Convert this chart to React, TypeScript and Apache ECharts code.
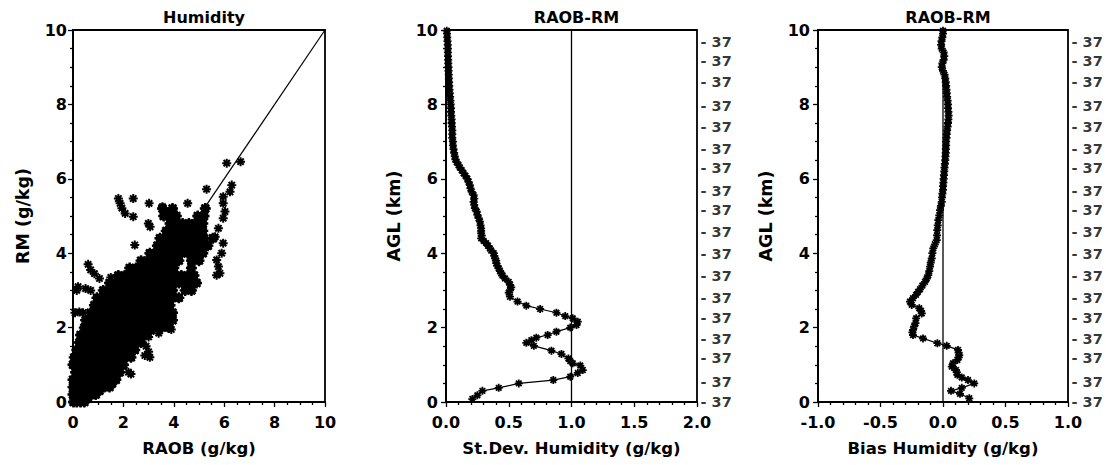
import React, { useEffect, useRef } from "react";
import * as echarts from "echarts";

// ---------- Panel 1: Humidity scatter (RAOB vs RM, g/kg) ----------
// dense cloud, read row by row: [RM value, list of RAOB values]
const cloudRows: [number, number[]][] = [
  [0.0, [0.02, 0.15, 0.3, 0.45]],
  [0.1, [0.1, 0.35, 0.6]],
  [0.2, [0.0, 0.2, 0.45, 0.7, 0.9]],
  [0.3, [0.1, 0.55, 1.05]],
  [0.4, [0.0, 0.25, 0.5, 0.75, 1.0, 1.25, 1.45]],
  [0.5, [0.15, 0.9, 1.3, 1.55]],
  [0.6, [0.0, 0.3, 0.55, 0.8, 1.05, 1.3, 1.55, 1.7]],
  [0.8, [0.1, 0.35, 0.6, 0.85, 1.1, 1.35, 1.6, 1.85]],
  [1.0, [0.0, 0.25, 0.5, 0.75, 1.0, 1.25, 1.5, 1.75, 2.0]],
  [1.2, [0.05, 0.3, 0.55, 0.8, 1.05, 1.3, 1.55, 1.8, 2.05, 2.3]],
  [1.4, [0.15, 0.4, 0.65, 0.9, 1.15, 1.4, 1.65, 1.9, 2.15, 2.45]],
  [1.6, [0.25, 0.5, 0.75, 1.0, 1.25, 1.5, 1.75, 2.0, 2.25, 2.5, 2.7]],
  [1.8, [0.3, 0.55, 0.8, 1.05, 1.3, 1.55, 1.8, 2.05, 2.3, 2.55, 2.85]],
  [2.0, [0.45, 0.7, 0.95, 1.2, 1.45, 1.7, 1.95, 2.2, 2.45, 2.7, 2.95, 3.2, 3.5, 3.8]],
  [2.2, [0.5, 0.75, 1.0, 1.25, 1.5, 1.75, 2.0, 2.25, 2.5, 2.75, 3.0, 3.25, 3.5, 3.75, 3.95]],
  [2.4, [0.7, 0.95, 1.2, 1.45, 1.7, 1.95, 2.2, 2.45, 2.7, 2.95, 3.2, 3.45, 3.7, 3.95]],
  [2.6, [0.85, 1.1, 1.35, 1.6, 1.85, 2.1, 2.35, 2.6, 2.85, 3.1, 3.35, 3.6, 3.85]],
  [2.8, [0.95, 1.2, 1.45, 1.7, 1.95, 2.2, 2.45, 2.7, 2.95, 3.2, 3.45, 3.7, 3.95, 4.2]],
  [3.0, [1.2, 1.45, 1.7, 1.95, 2.2, 2.45, 2.7, 2.95, 3.2, 3.45, 3.7, 3.95, 4.45, 4.7]],
  [3.2, [1.45, 1.7, 1.95, 2.2, 2.45, 2.7, 2.95, 3.2, 3.45, 3.7, 3.95, 4.2, 4.45, 4.7, 4.9]],
  [3.4, [1.8, 2.05, 2.3, 2.55, 2.8, 3.05, 3.3, 3.55, 3.8, 4.05, 4.3, 4.55, 4.8]],
  [3.6, [2.25, 2.5, 2.75, 3.0, 3.25, 3.5, 3.75, 4.0, 4.7]],
  [3.8, [2.7, 2.95, 3.2, 3.45, 3.7, 3.95, 4.2, 4.7, 5.0]],
  [4.0, [3.05, 3.3, 3.55, 3.8, 4.05, 4.3, 4.55, 4.8, 5.05, 5.15]],
  [4.2, [3.35, 3.6, 3.85, 4.1, 4.35, 4.6, 4.85, 5.1, 5.35]],
  [4.4, [3.45, 3.7, 3.95, 4.2, 4.45, 4.7, 4.95, 5.2, 5.55]],
  [4.6, [3.7, 3.95, 4.2, 4.45, 4.7, 4.95, 5.15]],
  [4.8, [3.85, 4.1, 4.35, 4.6, 4.85, 5.15]],
  [5.0, [3.6, 3.85, 4.1, 4.95, 5.2]],
  [5.2, [3.55, 3.95, 5.25]],
];
// isolated points: [RAOB, RM]
const outlierPoints: [number, number][] = [
  [0.08, 2.4], [0.25, 2.42], [0.4, 2.4], [0.2, 3.1], [0.5, 3.05], [0.6, 3.7],
  [0.7, 3.55], [0.85, 3.45], [1.05, 3.32], [1.5, 3.35], [0.15, 3.0], [0.7, 3.0],
  [1.8, 5.47], [1.87, 5.34], [1.94, 5.21], [2.07, 5.07], [2.39, 5.47], [2.39, 4.98],
  [3.02, 5.34], [2.99, 4.8], [3.06, 4.71], [2.45, 4.22], [4.55, 5.34], [3.55, 5.25],
  [3.72, 5.1], [3.98, 5.12], [5.3, 5.72], [5.24, 5.21], [6.1, 6.42], [6.65, 6.46],
  [6.3, 5.83], [6.23, 5.65], [5.96, 5.52], [5.96, 5.34], [6.03, 5.12], [5.96, 4.94],
  [5.77, 4.67], [5.64, 4.44], [5.96, 4.27], [5.9, 4.0], [5.7, 3.82], [5.77, 3.64],
  [5.83, 3.46], [5.7, 3.41], [2.2, 0.8], [2.3, 0.75], [2.85, 1.25], [3.0, 1.35],
  [3.05, 1.2], [2.9, 1.5], [3.1, 1.9], [3.4, 1.85], [3.9, 1.95], [3.85, 2.45],
  [1.75, 0.7], [3.0, 1.75],
];
const diagonalLine: [number, number][] = [[0, 0], [10, 10]];

// ---------- Panel 2: St.Dev. humidity profile ----------
const stdHeights = [
  0.08, 0.18, 0.3, 0.38, 0.5, 0.59, 0.68, 0.78, 0.86, 0.98, 1.04, 1.1, 1.17, 1.29, 1.38, 1.51, 1.59, 1.66,
  1.73, 1.8, 1.89, 2.0, 2.07, 2.16, 2.25, 2.31, 2.4, 2.5, 2.59, 2.7, 2.83, 2.94, 3.0, 3.08, 3.15, 3.23,
  3.32, 3.4, 3.46, 3.52, 3.59, 3.66, 3.73, 3.8, 3.86, 3.93, 4.0, 4.07, 4.13, 4.2, 4.27, 4.33, 4.4, 4.47,
  4.53, 4.6, 4.67, 4.75, 4.85, 4.94, 5.03, 5.12, 5.21, 5.3, 5.38, 5.47, 5.56, 5.65, 5.74, 5.83, 5.92, 6.0,
  6.08, 6.15, 6.23, 6.3, 6.37, 6.45, 6.52, 6.6, 6.7, 6.8, 6.9, 7.0, 7.1, 7.2, 7.3, 7.4, 7.5, 7.6, 7.7,
  7.8, 7.9, 8.0, 8.1, 8.2, 8.3, 8.4, 8.5, 8.6, 8.7, 8.8, 8.9, 9.0, 9.1, 9.2, 9.3, 9.4, 9.5, 9.6, 9.7,
  9.8, 9.9, 9.98,
];
const stdValues = [
  0.21, 0.25, 0.29, 0.42, 0.58, 0.855, 0.99, 1.05, 1.09, 1.07, 1.01, 0.99, 0.975, 0.92, 0.84, 0.7, 0.64, 0.68,
  0.72, 0.81, 0.88, 0.99, 1.04, 1.05, 1.01, 0.95, 0.88, 0.75, 0.64, 0.57, 0.51, 0.5, 0.51, 0.52, 0.51, 0.5,
  0.47, 0.45, 0.44, 0.43, 0.42, 0.41, 0.4, 0.4, 0.39, 0.385, 0.38, 0.36, 0.35, 0.335, 0.32, 0.3, 0.28, 0.285,
  0.28, 0.28, 0.28, 0.275, 0.27, 0.26, 0.25, 0.245, 0.23, 0.225, 0.22, 0.225, 0.22, 0.205, 0.195, 0.19, 0.18, 0.17,
  0.155, 0.14, 0.125, 0.11, 0.1, 0.085, 0.075, 0.07, 0.065, 0.06, 0.055, 0.055, 0.05, 0.05, 0.05, 0.048, 0.045, 0.045, 0.042,
  0.04, 0.04, 0.037, 0.035, 0.033, 0.03, 0.028, 0.026, 0.025, 0.023, 0.022, 0.02, 0.02, 0.018, 0.017, 0.016, 0.015, 0.015, 0.014, 0.012,
  0.01, 0.008, 0.006,
];
const stdRefLine: [number, number][] = [[1, 0], [1, 10]];

// ---------- Panel 3: Bias humidity profile ----------
const biasHeights = [
  0.1, 0.22, 0.3, 0.38, 0.5, 0.59, 0.66, 0.73, 0.8, 0.86, 0.95, 1.04, 1.13, 1.2, 1.26, 1.33, 1.4, 1.51,
  1.58, 1.71, 1.8, 1.87, 1.94, 2.03, 2.12, 2.25, 2.38, 2.45, 2.52, 2.61, 2.7, 2.79, 2.88, 2.96, 3.03, 3.13,
  3.23, 3.32, 3.41, 3.52, 3.64, 3.75, 3.86, 4.0, 4.13, 4.24, 4.35, 4.48, 4.62, 4.75, 4.89, 5.02, 5.16, 5.27,
  5.38, 5.5, 5.6, 5.7, 5.8, 5.9, 6.0, 6.1, 6.2, 6.3, 6.4, 6.5, 6.6, 6.7, 6.8, 6.9, 7.0, 7.1, 7.2, 7.3,
  7.4, 7.5, 7.6, 7.7, 7.8, 7.9, 8.0, 8.1, 8.2, 8.3, 8.4, 8.5, 8.6, 8.7, 8.8, 8.9, 9.0, 9.1, 9.2, 9.3,
  9.4, 9.5, 9.6, 9.7, 9.8, 9.9, 9.98,
];
const biasValues = [
  0.21, 0.136, 0.064, 0.15, 0.25, 0.2, 0.15, 0.115, 0.11, 0.104, 0.07, 0.08, 0.115, 0.125, 0.13, 0.125, 0.12, 0.03,
  -0.045, -0.16, -0.24, -0.245, -0.24, -0.23, -0.22, -0.215, -0.17, -0.175, -0.19, -0.25, -0.264, -0.24, -0.216, -0.2, -0.184, -0.165,
  -0.144, -0.13, -0.118, -0.11, -0.104, -0.098, -0.09, -0.085, -0.078, -0.065, -0.05, -0.048, -0.046, -0.042, -0.038, -0.03, -0.024, -0.017,
  -0.01, -0.008, -0.005, 0.0, 0.0, 0.003, 0.005, 0.008, 0.01, 0.012, 0.015, 0.018, 0.02, 0.022, 0.023, 0.025, 0.025, 0.028, 0.03, 0.033,
  0.037, 0.04, 0.043, 0.045, 0.043, 0.04, 0.04, 0.037, 0.033, 0.03, 0.028, 0.025, 0.022, 0.018, 0.012, 0.0, -0.01, -0.005, 0.005, 0.01,
  0.005, -0.01, -0.015, -0.012, -0.005, 0.0, 0.0,
];
const biasRefLine: [number, number][] = [[0, 0], [0, 10]];

// right-hand level labels (km) shared by panels 2 and 3
const rightLevels = [0, 0.54, 1.17, 1.7, 2.25, 2.8, 3.39, 3.98, 4.56, 5.16, 5.66, 6.3, 6.8, 7.38, 7.95, 8.6, 9.16, 9.68];
const rightLabels = ["37", "37", "37", "37", "37", "37", "37", "37", "37", "37", "37", "37", "37", "37", "37", "37", "37", "37"];

const titles = ["Humidity", "RAOB-RM", "RAOB-RM"];
const xNames = ["RAOB (g/kg)", "St.Dev. Humidity (g/kg)", "Bias Humidity (g/kg)"];
const yNames = ["RM (g/kg)", "AGL (km)", "AGL (km)"];

const FONT = "DejaVu Sans";
const ASTERISK =
  "path://M3.9 0h2.2v10h-2.2z M0 3.9h10v2.2h-10z M0.7 2.3L2.3 0.7L9.3 7.7L7.7 9.3z M7.7 0.7L9.3 2.3L2.3 9.3L0.7 7.7z";

const grids = [
  { left: 73, top: 30, width: 252, height: 372 },
  { left: 446, top: 30, width: 251, height: 372 },
  { left: 818, top: 30, width: 250, height: 372 },
];

export default function App() {
  const ref = useRef<HTMLDivElement>(null);
  useEffect(() => {
    document.body.style.margin = "0";
    if (!ref.current) return;
    const chart = echarts.init(ref.current, undefined, { renderer: "svg" });

    const axisCommon = {
      type: "value" as const,
      axisLine: { show: true, onZero: false, lineStyle: { color: "#000", width: 1.8 } },
      axisTick: { show: true, inside: false, length: 5, lineStyle: { color: "#000", width: 1.3 } },
      minorTick: { show: true, length: 3, lineStyle: { color: "#000", width: 1.3 } },
      splitLine: { show: false },
      axisLabel: { color: "#000", fontFamily: FONT, fontWeight: "bold" as const, fontSize: 16 },
      nameLocation: "middle" as const,
      nameTextStyle: { color: "#000", fontFamily: FONT, fontWeight: "bold" as const, fontSize: 16.5 },
    };

    const cloudData: [number, number][] = [];
    cloudRows.forEach(([rm, xs]) => xs.forEach((x) => cloudData.push([x, rm])));

    const solid = { color: "#000", opacity: 1 };

    const labelSeries = (idx: number, xPos: number) => ({
      type: "scatter" as const,
      xAxisIndex: idx,
      yAxisIndex: idx,
      symbolSize: 1,
      clip: false,
      silent: true,
      itemStyle: { color: "rgba(0,0,0,0)" },
      data: rightLevels.map((h, i) => ({ value: [xPos, h], name: rightLabels[i] })),
      label: {
        show: true,
        position: "right" as const,
        distance: 3,
        formatter: (p: any) => "- " + p.name,
        color: "#000",
        fontFamily: FONT,
        fontWeight: "bold" as const,
        fontSize: 14.5,
      },
    });

    chart.setOption({
      animation: false,
      backgroundColor: "#fff",
      textStyle: { fontFamily: FONT },
      title: titles.map((t, i) => ({
        text: t,
        left: grids[i].left + grids[i].width / 2,
        top: 4,
        textAlign: "center",
        textStyle: { color: "#000", fontFamily: FONT, fontWeight: "bold", fontSize: 16 },
      })),
      grid: grids.map((g) => ({ ...g, show: true, borderColor: "#000", borderWidth: 1.8, backgroundColor: "transparent" })),
      xAxis: [
        { ...axisCommon, gridIndex: 0, min: 0, max: 10, interval: 2, minorTick: { ...axisCommon.minorTick, splitNumber: 4 },
          axisLabel: { ...axisCommon.axisLabel, margin: 12 }, name: xNames[0], nameGap: 38 },
        { ...axisCommon, gridIndex: 1, min: 0, max: 2, interval: 0.5, minorTick: { ...axisCommon.minorTick, splitNumber: 5 },
          axisLabel: { ...axisCommon.axisLabel, margin: 12, formatter: (v: number) => v.toFixed(1) }, name: xNames[1], nameGap: 38 },
        { ...axisCommon, gridIndex: 2, min: -1, max: 1, interval: 0.5, minorTick: { ...axisCommon.minorTick, splitNumber: 5 },
          axisLabel: { ...axisCommon.axisLabel, margin: 12, formatter: (v: number) => v.toFixed(1) }, name: xNames[2], nameGap: 38 },
      ],
      yAxis: [0, 1, 2].map((i) => ({
        ...axisCommon,
        gridIndex: i,
        min: 0,
        max: 10,
        interval: 2,
        minorTick: { ...axisCommon.minorTick, splitNumber: 4 },
        axisLabel: { ...axisCommon.axisLabel, margin: i === 0 ? 6 : 8 },
        name: yNames[i],
        nameGap: i === 0 ? 41 : 43,
        nameTextStyle: { ...axisCommon.nameTextStyle, fontSize: 17.5 },
      })),
      series: [
        { type: "line", xAxisIndex: 0, yAxisIndex: 0, data: diagonalLine, symbol: "none", lineStyle: { color: "#000", width: 1.2 }, z: 1 },
        { type: "scatter", xAxisIndex: 0, yAxisIndex: 0, data: cloudData, symbol: "circle", symbolSize: 9, itemStyle: solid, z: 2 },
        { type: "scatter", xAxisIndex: 0, yAxisIndex: 0, data: cloudData, symbol: ASTERISK, symbolSize: 11, itemStyle: solid, z: 2 },
        { type: "scatter", xAxisIndex: 0, yAxisIndex: 0, data: outlierPoints, symbol: ASTERISK, symbolSize: 9, itemStyle: solid, z: 2 },

        { type: "line", xAxisIndex: 1, yAxisIndex: 1, data: stdRefLine, symbol: "none", lineStyle: { color: "#000", width: 1.3 }, z: 1 },
        { type: "line", xAxisIndex: 1, yAxisIndex: 1, data: stdHeights.map((h, i) => [stdValues[i], h]),
          symbol: ASTERISK, symbolSize: 8, showAllSymbol: true, itemStyle: solid, lineStyle: { color: "#000", width: 1.2 }, z: 2 },
        labelSeries(1, 2),

        { type: "line", xAxisIndex: 2, yAxisIndex: 2, data: biasRefLine, symbol: "none", lineStyle: { color: "#000", width: 1.3 }, z: 1 },
        { type: "line", xAxisIndex: 2, yAxisIndex: 2, data: biasHeights.map((h, i) => [biasValues[i], h]),
          symbol: ASTERISK, symbolSize: 8, showAllSymbol: true, itemStyle: solid, lineStyle: { color: "#000", width: 1.2 }, z: 2 },
        labelSeries(2, 1),
      ],
    });
    return () => chart.dispose();
  }, []);
  return <div ref={ref} style={{ width: 1106, height: 465 }} />;
}
